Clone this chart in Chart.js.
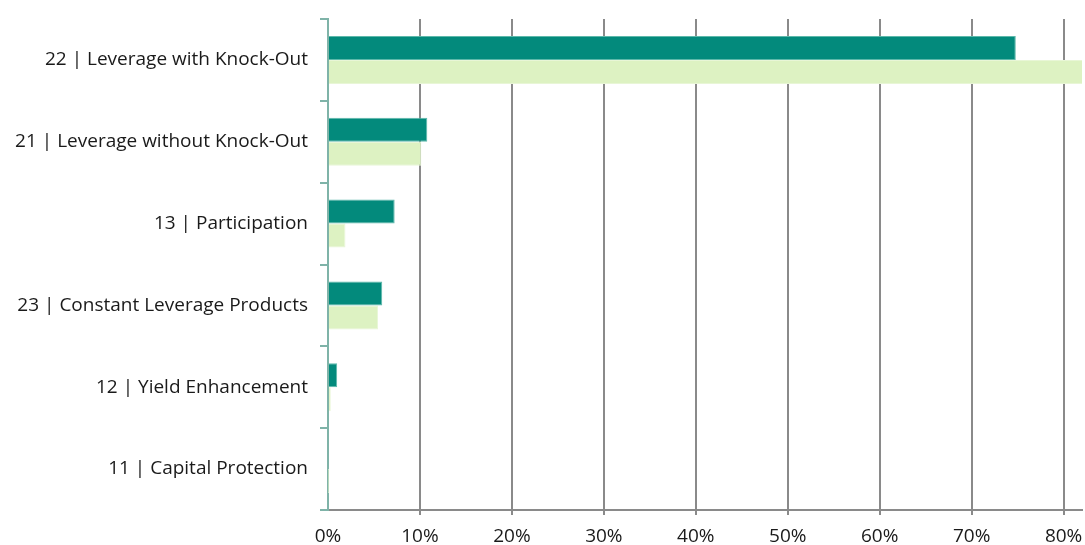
<!DOCTYPE html>
<html>
<head>
<meta charset="utf-8">
<title>Product categories</title>
<style>
  html, body { margin: 0; padding: 0; background: #fff; }
  #wrap { width: 1085px; height: 545px; position: relative; }
</style>
</head>
<body>
<div id="wrap"><canvas id="chart"></canvas></div>

<script src="https://cdn.jsdelivr.net/npm/chart.js@4/dist/chart.umd.min.js"></script>
<script>

const categories = [
  '22 | Leverage with Knock-Out',
  '21 | Leverage without Knock-Out',
  '13 | Participation',
  '23 | Constant Leverage Products',
  '12 | Yield Enhancement',
  '11 | Capital Protection'
];

// dark teal series (top bar in each group)
const seriesDark = [74.8, 10.8, 7.25, 5.9, 1.0, 0.1];
// light green series (bottom bar in each group)
const seriesLight = [82.5, 10.15, 1.9, 5.45, 0.3, 0.02];

const xTicks = [0, 10, 20, 30, 40, 50, 60, 70, 80];

const FONT = '"Open Sans", Lato, sans-serif';

new Chart(document.getElementById('chart'), {
  type: 'bar',
  data: {
    labels: categories,
    datasets: [
      {
        data: seriesDark,
        backgroundColor: '#038a7c',
        borderColor: '#5db8aa',
        borderWidth: 1,
        borderSkipped: 'start',
        categoryPercentage: 0.587,
        barPercentage: 1.0
      },
      {
        data: seriesLight,
        backgroundColor: '#ddf2c2',
        borderColor: '#e8f6d6',
        borderWidth: 1,
        borderSkipped: 'start',
        categoryPercentage: 0.587,
        barPercentage: 1.0
      }
    ]
  },
  options: {
    indexAxis: 'y',
    responsive: true,
    maintainAspectRatio: false,
    animation: false,
    layout: { padding: { top: 19, right: 3, left: 0, bottom: 0 } },
    plugins: {
      legend: { display: false },
      tooltip: { enabled: false }
    },
    scales: {
      x: {
        type: 'linear',
        min: 0,
        max: 82,
        afterBuildTicks: (scale) => {
          scale.ticks = xTicks.map(v => ({ value: v }));
        },
        afterFit: (scale) => {
          scale.height = 35;
          scale.paddingLeft = 0;
          scale.paddingRight = 0;
        },
        ticks: {
          padding: 10,
          color: '#1a1a1a',
          font: { family: FONT, size: 19 },
          callback: (v) => v + '%'
        },
        grid: {
          color: (ctx) => ctx.tick && ctx.tick.value === 0 ? 'rgba(0,0,0,0)' : '#8a8a8a',
          lineWidth: 2,
          tickLength: 5
        },
        border: { display: true, color: '#8a8a8a', width: 2 }
      },
      y: {
        afterFit: (scale) => {
          scale.width = 328;
          scale.paddingTop = 0;
          scale.paddingBottom = 0;
        },
        ticks: {
          padding: 12,
          color: '#1a1a1a',
          font: { family: FONT, size: 19 }
        },
        grid: {
          drawOnChartArea: false,
          drawTicks: true,
          tickLength: 8,
          color: '#7fb3a8',
          lineWidth: 2
        },
        border: { display: true, color: '#7fb3a8', width: 2 }
      }
    }
  }
});

</script>
</body>
</html>
